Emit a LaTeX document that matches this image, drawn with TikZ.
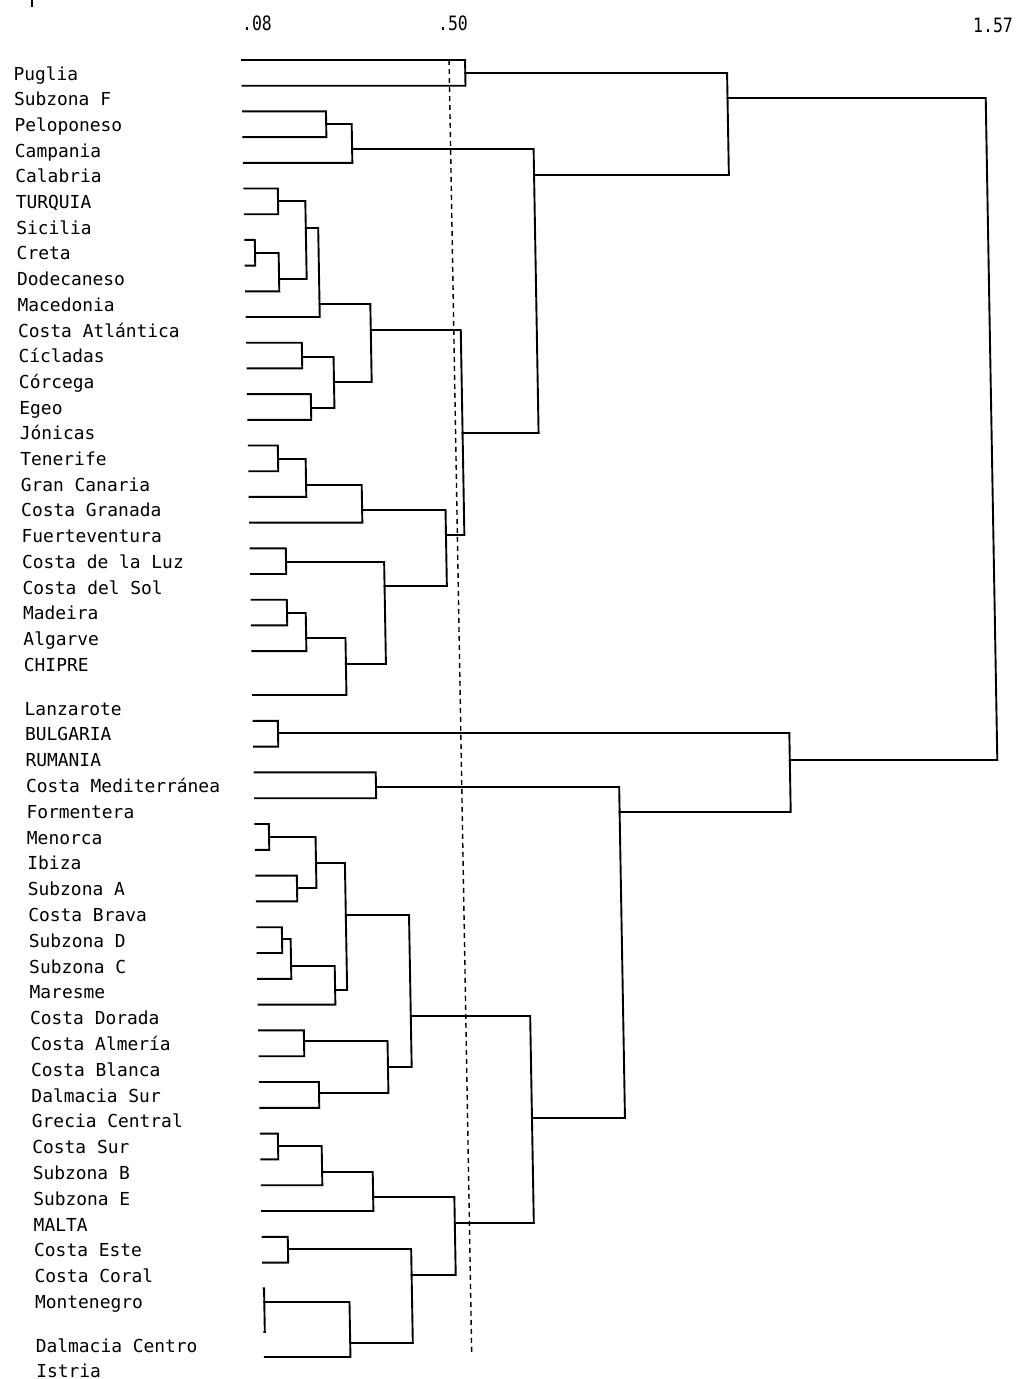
\documentclass[tikz,border=0pt]{standalone}
\usepackage{fontspec}
\setmonofont{DejaVu Sans Mono}
\newcommand\joinpair[3]{\draw[tree] (#1) -- (#1 -| #3) -- (#2 -| #3) -- (#2);}
\begin{document}
\begin{tikzpicture}[x=1pt,y=-1pt,
  tree/.style={draw=black,line width=1.9pt,line join=miter,line cap=rect},
  cutline/.style={draw=black,line width=1.4pt,dash pattern=on 5pt off 4pt},
  lab/.style={anchor=base west,inner sep=0pt,text=black,font=\ttfamily\fontsize{17.9}{20}\selectfont},
  axislab/.style={anchor=base,inner sep=0pt,text=black,font=\ttfamily\fontsize{16.5}{18}\selectfont}]
\useasboundingbox (0,0) rectangle (1033,1379);
\fill[white] (0,0) rectangle (1033,1379);
% scale values
\node[axislab] (t08) at (257,30) {\scalebox{1}[1.2]{.08}};
\node[axislab] (t50) at (453,30) {\scalebox{1}[1.2]{.50}};
\node[axislab] (t157) at (993,32) {\scalebox{1}[1.2]{1.57}};
\coordinate (mk1) at (32,0);
\coordinate (mk2) at (32,7);
\draw[line width=2pt] (mk1) -- (mk2);
\begin{scope}[xslant=-0.0175]
% leaves and labels
\foreach \i/\y/\t in {
 1/60/Puglia, 2/85.7/Subzona F, 3/111.4/Peloponeso, 4/137.1/Campania,
 5/162.8/Calabria, 6/188.5/TURQUIA, 7/214.2/Sicilia, 8/239.9/Creta,
 9/265.6/Dodecaneso, 10/291.3/Macedonia, 11/317/Costa Atlántica,
 12/342.7/Cícladas, 13/368.4/Córcega, 14/394.1/Egeo, 15/419.8/Jónicas,
 16/445.5/Tenerife, 17/471.2/Gran Canaria, 18/496.9/Costa Granada,
 19/522.6/Fuerteventura, 20/548.3/Costa de la Luz, 21/574/Costa del Sol,
 22/599.7/Madeira, 23/625.4/Algarve, 24/651.1/CHIPRE,
 25/695/Lanzarote, 26/720.8/BULGARIA, 27/746.6/RUMANIA,
 28/772.4/Costa Mediterránea, 29/798.2/Formentera, 30/824/Menorca,
 31/849.8/Ibiza, 32/875.6/Subzona A, 33/901.4/Costa Brava,
 34/927.2/Subzona D, 35/953/Subzona C, 36/978.8/Maresme,
 37/1004.6/Costa Dorada, 38/1030.4/Costa Almería, 39/1056.2/Costa Blanca,
 40/1082/Dalmacia Sur, 41/1107.8/Grecia Central, 42/1133.6/Costa Sur,
 43/1159.4/Subzona B, 44/1185.2/Subzona E, 45/1211/MALTA,
 46/1236.8/Costa Este, 47/1262.6/Costa Coral, 48/1288.4/Montenegro,
 49/1332/Dalmacia Centro, 50/1357/Istria}
{
  \coordinate (L\i) at (241,\y);
  \node[lab] (N\i) at (12,\y+20) {\t};
}
% merge points (x = level, y = outgoing branch)
\coordinate (M1) at (464,73);
\coordinate (M2) at (324,124);
\coordinate (M3) at (349.5,149);
\coordinate (M4) at (274.5,201);
\coordinate (M5) at (250.6,253);
\coordinate (M6) at (274.2,279);
\coordinate (M7) at (301.8,228);
\coordinate (M8) at (314.2,304);
\coordinate (M9) at (295.8,357);
\coordinate (M10) at (303.9,408);
\coordinate (M11) at (327.3,382);
\coordinate (M12) at (365,330);
\coordinate (M13) at (270,459);
\coordinate (M14) at (297.6,485);
\coordinate (M15) at (353.2,510);
\coordinate (M16) at (276.2,562);
\coordinate (M17) at (276.3,613);
\coordinate (M18) at (295,638);
\coordinate (M19) at (334.3,664);
\coordinate (M20) at (374.3,586);
\coordinate (M21) at (436.6,535);
\coordinate (M22) at (455,433);
\coordinate (M23) at (531,175);
\coordinate (M24) at (725.8,98);
\coordinate (B1) at (265.2,733);
\coordinate (B2) at (362.2,787);
\coordinate (B3) at (254.4,837);
\coordinate (B4) at (281.5,888);
\coordinate (B5) at (300.9,863);
\coordinate (B6) at (265.6,939);
\coordinate (B7) at (274.2,966);
\coordinate (B8) at (317.8,990);
\coordinate (B9) at (329.8,915);
\coordinate (B10) at (285.8,1041);
\coordinate (B11) at (299.9,1093);
\coordinate (B12) at (369.3,1067);
\coordinate (B13) at (393,1016);
\coordinate (B14) at (258,1146);
\coordinate (B15) at (301.6,1172);
\coordinate (B16) at (352.2,1197);
\coordinate (B17) at (266.1,1249);
\coordinate (B18) at (241.5,1302);
\coordinate (B19) at (326.7,1343);
\coordinate (B20) at (389.3,1275);
\coordinate (B21) at (433.4,1223);
\coordinate (B22) at (512.4,1118);
\coordinate (B23) at (605.4,812);
\coordinate (B24) at (776.5,760);
\coordinate (R) at (984,429);
% cut level
\coordinate (D1) at (448,60);
\coordinate (D2) at (448,1353);
\draw[cutline] (D1) -- (D2);
% upper tree
\joinpair{L1}{L2}{M1}
\joinpair{L3}{L4}{M2}
\joinpair{M2}{L5}{M3}
\joinpair{L6}{L7}{M4}
\joinpair{L8}{L9}{M5}
\joinpair{M5}{L10}{M6}
\joinpair{M4}{M6}{M7}
\joinpair{M7}{L11}{M8}
\joinpair{L12}{L13}{M9}
\joinpair{L14}{L15}{M10}
\joinpair{M9}{M10}{M11}
\joinpair{M8}{M11}{M12}
\joinpair{L16}{L17}{M13}
\joinpair{M13}{L18}{M14}
\joinpair{M14}{L19}{M15}
\joinpair{L20}{L21}{M16}
\joinpair{L22}{L23}{M17}
\joinpair{M17}{L24}{M18}
\joinpair{M18}{L25}{M19}
\joinpair{M16}{M19}{M20}
\joinpair{M15}{M20}{M21}
\joinpair{M12}{M21}{M22}
\joinpair{M3}{M22}{M23}
\joinpair{M1}{M23}{M24}
% lower tree
\joinpair{L26}{L27}{B1}
\joinpair{L28}{L29}{B2}
\joinpair{L30}{L31}{B3}
\joinpair{L32}{L33}{B4}
\joinpair{B3}{B4}{B5}
\joinpair{L34}{L35}{B6}
\joinpair{B6}{L36}{B7}
\joinpair{B7}{L37}{B8}
\joinpair{B5}{B8}{B9}
\joinpair{L38}{L39}{B10}
\joinpair{L40}{L41}{B11}
\joinpair{B10}{B11}{B12}
\joinpair{B9}{B12}{B13}
\joinpair{L42}{L43}{B14}
\joinpair{B14}{L44}{B15}
\joinpair{B15}{L45}{B16}
\joinpair{L46}{L47}{B17}
\joinpair{L48}{L49}{B18}
\joinpair{B18}{L50}{B19}
\joinpair{B17}{B19}{B20}
\joinpair{B16}{B20}{B21}
\joinpair{B13}{B21}{B22}
\joinpair{B2}{B22}{B23}
\joinpair{B1}{B23}{B24}
% root
\joinpair{M24}{B24}{R}
\end{scope}
\end{tikzpicture}
\end{document}
